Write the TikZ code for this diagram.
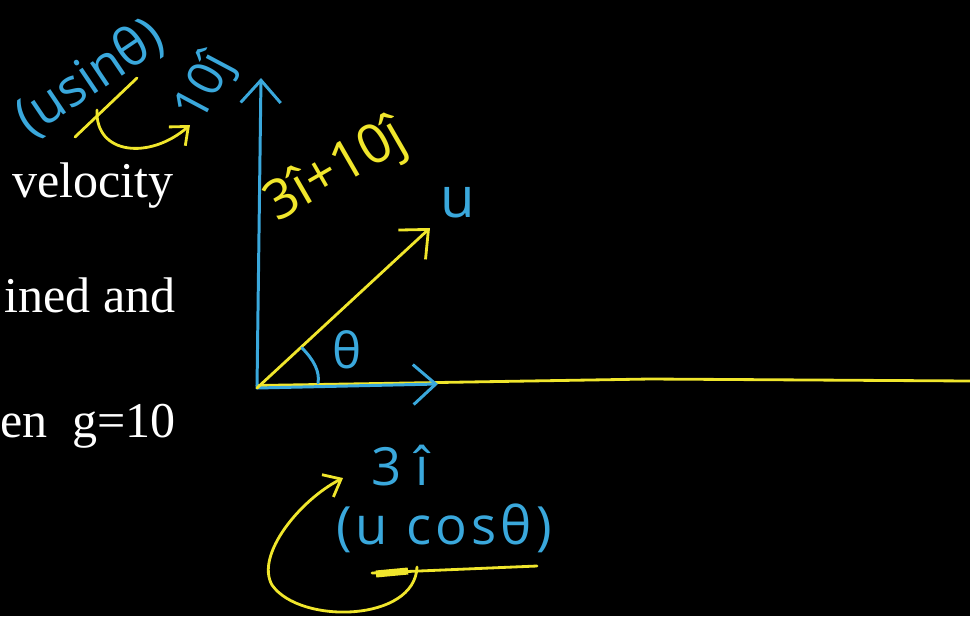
\documentclass[tikz,border=0pt]{standalone}
\usepackage{fontspec}
\setmainfont{Liberation Serif}
\newfontfamily\handfont{Open Sans}
\definecolor{penblue}{HTML}{3AA8DC}
\definecolor{penyellow}{HTML}{F0E62C}
\usetikzlibrary{arrows.meta, positioning, calc}

\begin{document}
\begin{tikzpicture}[
    x=0.02cm, y=-0.02cm,
    slide/.style={text=white, font=\fontsize{28.5}{34}\selectfont,
                  anchor=base east, inner sep=0pt},
    hand/.style={font=\handfont\fontsize{28}{32}\selectfont, inner sep=0pt},
    blueink/.style={penblue, line width=1.7pt, line cap=round, line join=round},
    yellowink/.style={penyellow, line width=1.6pt, line cap=round, line join=round},
    barb/.style={-{Straight Barb[length=4.5mm, width=8mm]}},
    smallbarb/.style={-{Straight Barb[length=3mm, width=5mm]}}
  ]
  \fill[black] (0,0) rectangle (970,616);
  \useasboundingbox (0,0) rectangle (970,616);

  \node[slide] (line1) at (174,197) {velocity};
  \node[slide] (line2) at (176,312) {ined\ and};
  \node[slide] (line3) at (176,437) {en\ \ g=10};

  \coordinate (O) at (257,388);
  \coordinate (ytip) at (261,78);
  \coordinate (xtip) at (438,384);
  \coordinate (utip) at (430,228);
  \coordinate (xmid) at (650,379);
  \coordinate (xend) at (970,381);

  \draw[yellowink] ([yshift=0.5mm]O) -- (xmid) -- (xend);
  \draw[blueink, barb] (O) -- (ytip);
  \draw[blueink, barb] (O) -- (xtip);
  \draw[yellowink, barb] (O) -- (utip);
  \draw[blueink] (302,348) .. controls (314,360) and (320,372) .. (318,383);

  \node[hand, text=penblue] (theta) at (347,350) {θ};
  \node[hand, text=penblue, font=\handfont\fontsize{32}{36}\selectfont] (u) at (458,203) {u};
  \node[hand, text=penyellow, rotate=30, font=\handfont\fontsize{31}{36}\selectfont]
    (sum) at (336,172) {3î+10ĵ};

  \node[hand, text=penblue, rotate=34, font=\handfont\fontsize{30}{34}\selectfont]
    (usin) at (90,78) {(usinθ)};
  \node[hand, text=penblue, rotate=62, font=\handfont\fontsize{28}{32}\selectfont]
    (yten) at (206,88) {10ĵ};
  \draw[yellowink] (137,78) -- (75,137);
  \draw[yellowink, smallbarb] (97,110) .. controls (95,155) and (150,160) .. (190,125);

  \node[hand, text=penblue, font=\handfont\fontsize{30}{34}\selectfont] (xthree) at (400,466) {3\ î};
  \node[hand, text=penblue, font=\handfont\addfontfeature{LetterSpace=8}\fontsize{30}{34}\selectfont]
    (ucos) at (444,528) {(u cosθ)};
  \draw[yellowink] (372,573) -- (537,566);
  \draw[penyellow, line width=4pt] (376,574) -- (408,571);
  \draw[yellowink, smallbarb] (417,567) .. controls (415,622) and (300,625) .. (272,585)
    .. controls (255,555) and (300,500) .. (343,478);
\end{tikzpicture}
\end{document}
